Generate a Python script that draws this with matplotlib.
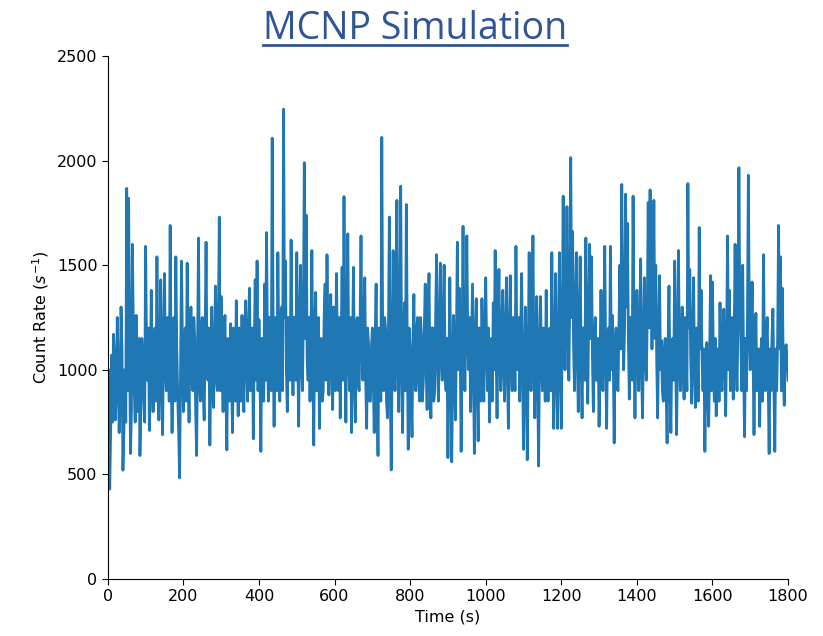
import matplotlib
matplotlib.use("Agg")
import matplotlib.pyplot as plt
from matplotlib.lines import Line2D

# Count rate values. "seg" values sit at t = 0, 5, 10, ... s;
# "mid" values sit half-way, at t = 2.5, 7.5, ... s (the dense core of the trace).
seg00 = [850, 430, 1070, 1170, 760, 1250, 700, 1300, 520, 1000, 1867, 1820, 600, 1600, 900, 1260, 1000, 590, 1150, 880]
seg01 = [1590, 950, 710, 1380, 800, 1200, 1540, 760, 1430, 690, 1460, 900, 1100, 1690, 700, 1250, 1540, 880, 483, 1520]
seg02 = [800, 1200, 1510, 750, 1300, 900, 1150, 590, 1630, 850, 1250, 760, 1610, 950, 640, 1300, 820, 1400, 900, 1730]
seg03 = [1350, 800, 1260, 617, 1000, 1220, 700, 1100, 1330, 780, 1150, 1260, 800, 1330, 850, 1390, 950, 670, 1430, 1520]
seg04 = [1240, 610, 1050, 1410, 1656, 850, 1200, 2107, 730, 1150, 1560, 850, 1300, 2246, 1520, 800, 1200, 1620, 880, 1250]
seg05 = [1560, 730, 1500, 900, 1990, 1740, 950, 850, 1570, 640, 1370, 1000, 720, 1150, 900, 1410, 1550, 880, 1360, 810]
seg06 = [1150, 1460, 900, 770, 1490, 1828, 750, 1650, 900, 700, 1490, 750, 1250, 900, 1640, 950, 1440, 720, 1120, 850]
seg07 = [1200, 700, 1410, 590, 1000, 2111, 900, 1200, 770, 1730, 521, 1570, 900, 1810, 800, 1878, 700, 1320, 1790, 620]
seg08 = [1100, 680, 1360, 900, 1250, 850, 1150, 950, 1410, 810, 1460, 770, 1200, 900, 1550, 850, 1510, 950, 1500, 900]
seg09 = [580, 1440, 560, 1260, 760, 1610, 1390, 610, 1686, 900, 1640, 1000, 800, 1410, 600, 1340, 660, 1100, 1340, 850]
seg10 = [1440, 900, 750, 1150, 1320, 1570, 770, 1480, 900, 1380, 850, 1440, 720, 1450, 900, 1200, 1590, 1000, 850, 1460]
seg11 = [620, 1300, 570, 1560, 900, 1640, 770, 1350, 540, 1350, 900, 1100, 1380, 850, 1200, 1560, 720, 1460, 720, 1560]
seg12 = [720, 1830, 1000, 1780, 950, 2014, 1660, 900, 1560, 800, 1540, 770, 1200, 1630, 840, 1600, 1540, 800, 1250, 950]
seg13 = [730, 1380, 900, 1590, 720, 1200, 1590, 1260, 650, 1200, 900, 1500, 1886, 1000, 1840, 1700, 860, 1200, 1830, 770]
seg14 = [1380, 900, 1530, 770, 1440, 950, 1800, 1860, 1100, 1810, 1500, 770, 1450, 1140, 850, 1150, 650, 1400, 700, 1150]
seg15 = [1520, 690, 1570, 900, 1300, 860, 1100, 1890, 1480, 840, 1440, 820, 1100, 1680, 1380, 900, 610, 1130, 730, 1450]
seg16 = [1420, 850, 780, 1100, 1320, 900, 1290, 780, 1640, 1380, 1000, 860, 1600, 900, 1966, 1180, 1500, 680, 900, 1930]
seg17 = [1000, 1420, 690, 1270, 950, 730, 1150, 1550, 900, 1250, 600, 900, 1290, 610, 900, 1690, 1540, 1390, 830, 1120, 950]

mid00 = [1000, 700, 750, 1050, 900, 1000, 850, 1100, 700, 750, 900, 1150, 800, 1200, 750, 800, 1150, 800, 1050, 750]
mid01 = [1100, 1200, 900, 1000, 1150, 850, 1000, 1050, 900, 1150, 1000, 1250, 850, 1000, 950, 850, 1100, 700, 1000, 1100]
mid02 = [1100, 850, 1000, 1150, 950, 1250, 800, 1100, 950, 1200, 900, 1150, 1000, 1200, 1000, 900, 1150, 950, 1200, 900]
mid03 = [1050, 1150, 900, 1150, 850, 950, 1200, 850, 1000, 1200, 850, 950, 1200, 1000, 1200, 900, 1200, 1100, 950, 900]
mid04 = [1000, 1150, 850, 950, 1100, 1250, 900, 1200, 1250, 900, 1100, 1250, 900, 1250, 1000, 1250, 950, 1150, 1250, 950]
mid05 = [1100, 1200, 1050, 1250, 1150, 1050, 1250, 1150, 1000, 1200, 900, 1250, 1100, 850, 1250, 950, 1150, 1200, 1000, 1300]
mid06 = [900, 1100, 1250, 1100, 950, 1100, 1200, 1050, 1250, 1050, 1000, 1200, 950, 1200, 1100, 1250, 950, 1200, 850, 1100]
mid07 = [950, 1150, 900, 1200, 850, 1100, 1250, 850, 1150, 900, 1100, 1000, 1250, 1000, 1200, 1050, 1150, 900, 1100, 1200]
mid08 = [900, 1150, 950, 1200, 950, 1250, 850, 1200, 1000, 1250, 950, 1200, 850, 1250, 1050, 1200, 1050, 1250, 1000, 1150]
mid09 = [1000, 1050, 950, 1000, 1150, 1000, 1100, 1100, 1050, 1200, 1150, 1250, 1100, 1000, 1150, 950, 1200, 850, 1050, 1150]
mid10 = [1100, 1200, 1050, 850, 1000, 1100, 1200, 1050, 1200, 1000, 1200, 1000, 1150, 1050, 1250, 900, 1100, 1250, 1150, 1000]
mid11 = [950, 1000, 1050, 1100, 1200, 1050, 1150, 950, 1100, 1050, 1200, 850, 1050, 1150, 900, 1050, 1100, 1000, 1100, 1050]
mid12 = [1150, 1250, 1300, 1200, 1350, 1250, 1100, 1300, 1050, 1250, 1050, 1200, 950, 1100, 1250, 1150, 1050, 1150, 950, 1150]
mid13 = [1050, 1100, 1200, 1050, 1150, 950, 1000, 1050, 1100, 950, 1200, 1100, 1250, 1200, 1300, 1150, 1250, 950, 1100, 1100]
mid14 = [1100, 1200, 1000, 1150, 1050, 1250, 1200, 1300, 1300, 1150, 1050, 1150, 1000, 900, 1100, 900, 1100, 950, 1100, 950]
mid15 = [1100, 1050, 1100, 1150, 1000, 1250, 900, 1200, 1050, 1150, 1000, 1200, 850, 1100, 1050, 1100, 1000, 900, 1050, 900]
mid16 = [1050, 1150, 1050, 850, 1000, 1150, 1000, 1150, 1000, 900, 1250, 1150, 1050, 1200, 1250, 900, 1000, 1150, 1200, 1250]
mid17 = [1150, 1050, 1100, 900, 1100, 1050, 850, 1100, 1150, 950, 1100, 1150, 950, 1100, 1150, 1100, 900, 1000, 1100, 1050]

main_vals = (seg00 + seg01 + seg02 + seg03 + seg04 + seg05 + seg06 + seg07 + seg08
             + seg09 + seg10 + seg11 + seg12 + seg13 + seg14 + seg15 + seg16 + seg17)
mid_vals = (mid00 + mid01 + mid02 + mid03 + mid04 + mid05 + mid06 + mid07 + mid08
            + mid09 + mid10 + mid11 + mid12 + mid13 + mid14 + mid15 + mid16 + mid17)

count_rate = []
for a, b in zip(main_vals, mid_vals):
    count_rate.extend([a, b])
count_rate.append(main_vals[-1])
time_step = 2.5
time_s = [i * time_step for i in range(len(count_rate))]

x_ticks = [0, 200, 400, 600, 800, 1000, 1200, 1400, 1600, 1800]
y_ticks = [0, 500, 1000, 1500, 2000, 2500]

fig = plt.figure(figsize=(8.23, 6.36), dpi=100)
ax = fig.add_axes([0.131, 0.0896, 0.8265, 0.8224])
ax.plot(time_s, count_rate, color="#1f77b4", linewidth=2.0)
ax.set_xlim(0, 1800)
ax.set_ylim(0, 2500)
ax.set_xticks(x_ticks)
ax.set_yticks(y_ticks)
ax.tick_params(labelsize=11.5, length=4)
ax.spines["top"].set_visible(False)
ax.spines["right"].set_visible(False)
ax.set_xlabel("Time (s)", fontsize=11.5)
ax.set_ylabel("Count Rate ($s^{-1}$)", fontsize=11.5)

title_color = "#2F5597"
t = fig.text(0.504, 0.955, "MCNP Simulation", ha="center", va="center",
             fontsize=27, color=title_color, family=["Open Sans", "DejaVu Sans"])
fig.canvas.draw()
bb = t.get_window_extent(renderer=fig.canvas.get_renderer())
inv = fig.transFigure.inverted()
(x0, y0), (x1, y1) = inv.transform([(bb.x0, bb.y0), (bb.x1, bb.y1)])
uy = y0 + 0.004
fig.add_artist(Line2D([x0, x1], [uy, uy], transform=fig.transFigure,
                      color=title_color, linewidth=2))

fig.savefig("out.png", dpi=100)
